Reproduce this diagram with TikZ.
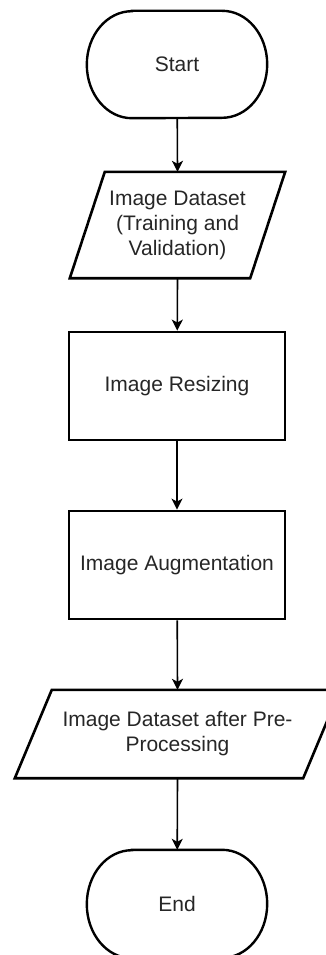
\documentclass[tikz,border=0pt]{standalone}
\usepackage{fontspec}
\setmainfont{Liberation Sans}
\usetikzlibrary{arrows.meta}
\begin{document}
\begin{tikzpicture}[x=1pt,y=-1pt,
  every node/.style={font=\fontsize{21}{25}\selectfont, align=center, text=black!85, inner sep=0pt},
  term/.style={minimum width=180pt, minimum height=107pt},
  termshape/.style={draw, line width=2.4pt},
  proc/.style={draw, line width=2.8pt, minimum width=216pt, minimum height=108pt},
  ioshape/.style={draw, line width=2.6pt, line join=miter},
  conn/.style={line width=1.6pt, -{Stealth[length=11pt,width=11pt,inset=3pt]}}]
\useasboundingbox (0,0) rectangle (326,955);
% Start
\node[term] (start) at (177,64.5) {Start};
\draw[termshape] ([xshift=45pt]start.north west) -- ([xshift=-45pt]start.north east)
  arc[start angle=90, end angle=-90, x radius=45pt, y radius=53.5pt]
  -- ([xshift=45pt]start.south west)
  arc[start angle=270, end angle=90, x radius=45pt, y radius=53.5pt] -- cycle;
% Input dataset
\node[minimum width=180pt, minimum height=106pt] (p1) at (177.5,225) {Image Dataset\\(Training and\\Validation)};
\draw[ioshape] ([xshift=17.5pt]p1.north west) -- ([xshift=17.5pt]p1.north east) -- ([xshift=-17.5pt]p1.south east) -- ([xshift=-17.5pt]p1.south west) -- cycle;
% Processes
\node[proc] (r1) at (177,386) {Image Resizing};
\node[proc] (r2) at (177,565) {Image Augmentation};
% Output dataset
\node[minimum width=288pt, minimum height=88pt] (p2) at (177.5,734) {Image Dataset after Pre-\\Processing};
\draw[ioshape] ([xshift=18.5pt]p2.north west) -- ([xshift=18.5pt]p2.north east) -- ([xshift=-18.5pt]p2.south east) -- ([xshift=-18.5pt]p2.south west) -- cycle;
% End
\node[term, minimum height=108pt] (end) at (177,904) {End};
\draw[termshape] ([xshift=45pt]end.north west) -- ([xshift=-45pt]end.north east)
  arc[start angle=90, end angle=-90, x radius=45pt, y radius=54pt]
  -- ([xshift=45pt]end.south west)
  arc[start angle=270, end angle=90, x radius=45pt, y radius=54pt] -- cycle;
% Connectors
\draw[conn] (start) -- (p1.north);
\draw[conn] (p1.south) -- (r1);
\draw[conn] (r1) -- (r2);
\draw[conn] (r2) -- (p2.north);
\draw[conn] (p2.south) -- (end);
\end{tikzpicture}
\end{document}
